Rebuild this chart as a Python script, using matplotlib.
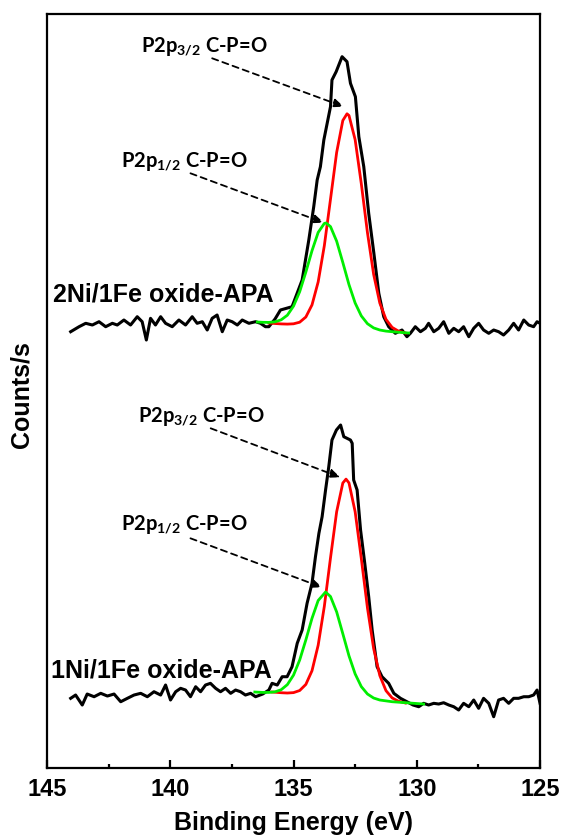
import matplotlib
matplotlib.use("Agg")
import matplotlib.pyplot as plt

plt.rcParams['font.family'] = ['Liberation Sans', 'DejaVu Sans']
plt.rcParams['font.weight'] = 'bold'
plt.rcParams['mathtext.fontset'] = 'custom'
plt.rcParams['mathtext.bf'] = 'Lato:bold'
plt.rcParams['mathtext.rm'] = 'Lato:bold'

# ---- 2Ni/1Fe oxide-APA (upper spectrum, offset) ----
be_2ni = [144.04, 143.70, 143.43, 143.16, 142.89, 142.62, 142.35, 142.15, 141.88, 141.61,
          141.34, 141.14, 140.97, 140.80, 140.60, 140.39, 140.19, 139.92, 139.65, 139.38,
          139.11, 138.91, 138.70, 138.50, 138.30, 138.10, 137.89, 137.69, 137.49, 137.28,
          137.08, 136.81, 136.54, 136.34, 136.14, 136.00, 135.75, 135.53, 135.06, 134.65,
          134.38, 134.18, 134.04, 133.91, 133.77, 133.50, 133.44, 133.27, 133.03, 132.83,
          132.69, 132.49, 132.35, 132.15, 131.95, 131.74, 131.54, 131.34, 131.14, 130.87,
          130.60, 130.40, 130.26, 130.06, 129.85, 129.65, 129.52, 129.31, 129.11, 128.91,
          128.70, 128.50, 128.30, 128.10, 127.89, 127.69, 127.49, 127.29, 127.08, 126.88,
          126.68, 126.48, 126.27, 126.07, 125.87, 125.66, 125.46, 125.26, 125.12, 125.00]
cps_2ni = [442.3, 447.3, 450.7, 449.0, 452.3, 447.3, 450.7, 449.0, 454.0, 449.0,
           457.3, 452.3, 434.0, 455.7, 449.0, 457.3, 450.7, 447.3, 454.0, 449.0,
           457.3, 450.7, 452.3, 444.0, 455.7, 459.0, 442.3, 454.0, 452.3, 449.0,
           454.0, 450.7, 452.3, 450.7, 447.3, 447.3, 455.0, 464.0, 467.3, 494.0,
           534.0, 567.3, 594.0, 607.3, 634.0, 667.3, 694.0, 702.3, 717.3, 712.3,
           690.7, 677.3, 637.3, 607.3, 560.7, 520.7, 480.7, 457.3, 447.3, 440.7,
           444.0, 437.3, 440.7, 447.3, 442.3, 445.7, 450.7, 442.3, 445.7, 452.3,
           440.7, 445.7, 442.3, 447.3, 437.3, 445.7, 450.7, 444.0, 440.7, 444.0,
           442.3, 439.0, 444.0, 450.7, 444.0, 454.0, 449.0, 447.3, 452.3, 450.7]

fit32_be_2ni = [136.00, 135.75, 135.50, 135.25, 135.00, 134.75, 134.50, 134.25, 134.00, 133.75,
                133.50, 133.25, 133.00, 132.83, 132.75, 132.50, 132.25, 132.00, 131.75, 131.50,
                131.25, 131.00, 130.75, 130.46]
fit32_2ni = [451.0, 450.5, 450.1, 449.9, 450.2, 451.8, 457.0, 469.1, 492.1, 528.3,
             574.8, 621.6, 653.5, 660.2, 658.5, 634.3, 590.3, 541.2, 499.7, 471.0,
             454.7, 446.6, 443.0, 441.0]
fit12_be_2ni = [136.47, 136.25, 136.00, 135.75, 135.50, 135.25, 135.00, 134.75, 134.50, 134.25,
                134.00, 133.75, 133.68, 133.50, 133.25, 133.00, 132.75, 132.50, 132.25, 132.00,
                131.75, 131.50, 131.25, 131.00, 130.75, 130.50, 130.33]
fit12_2ni = [452.0, 451.7, 451.6, 452.2, 454.2, 458.8, 467.9, 482.3, 501.9, 523.3,
             541.6, 550.6, 551.0, 547.4, 532.8, 511.5, 489.4, 471.0, 458.1, 450.3,
             446.1, 444.0, 442.9, 442.3, 441.8, 441.3, 441.0]

# ---- 1Ni/1Fe oxide-APA (lower spectrum) ----
be_1ni = [144.04, 143.84, 143.57, 143.37, 143.09, 142.82, 142.55, 142.28, 142.01, 141.74,
          141.47, 141.20, 140.93, 140.66, 140.39, 140.19, 139.99, 139.78, 139.58, 139.38,
          139.18, 138.97, 138.77, 138.57, 138.37, 138.16, 137.96, 137.76, 137.55, 137.35,
          137.15, 136.95, 136.74, 136.54, 136.25, 136.00, 135.87, 135.66, 135.46, 135.26,
          135.06, 134.85, 134.65, 134.45, 134.25, 134.11, 133.97, 133.84, 133.70, 133.57,
          133.44, 133.26, 133.09, 132.96, 132.69, 132.62, 132.56, 132.42, 132.28, 132.11,
          131.95, 131.81, 131.61, 131.41, 131.14, 130.93, 130.66, 130.40, 130.15, 129.92,
          129.72, 129.52, 129.31, 129.11, 128.91, 128.70, 128.50, 128.30, 128.10, 127.89,
          127.69, 127.49, 127.29, 127.08, 126.88, 126.68, 126.48, 126.27, 126.07, 125.87,
          125.66, 125.46, 125.26, 125.12, 125.00]
cps_1ni = [75.7, 79.0, 69.0, 80.0, 77.3, 80.7, 78.0, 80.0, 72.3, 75.7,
           79.0, 80.7, 77.3, 82.3, 79.0, 89.0, 74.0, 82.3, 85.7, 84.0,
           77.3, 87.3, 82.3, 89.0, 90.7, 85.7, 82.3, 85.7, 80.7, 84.0,
           82.3, 79.0, 80.7, 77.3, 80.0, 84.0, 90.7, 89.0, 97.3, 97.3,
           107.3, 130.7, 144.0, 170.7, 190.7, 217.3, 240.7, 257.3, 284.0, 307.3,
           334.0, 344.0, 349.0, 337.3, 334.0, 330.7, 294.0, 284.0, 244.0, 210.7,
           177.3, 144.0, 107.3, 97.3, 90.7, 80.7, 75.7, 72.3, 69.0, 67.3,
           70.7, 69.0, 70.7, 70.0, 71.3, 69.0, 67.3, 64.0, 70.7, 67.3,
           74.0, 65.7, 75.7, 70.7, 57.3, 74.0, 75.7, 70.7, 75.7, 75.7,
           77.3, 77.3, 79.0, 84.0, 70.7]

fit32_be_1ni = [135.87, 135.75, 135.50, 135.25, 135.00, 134.75, 134.50, 134.25, 134.00, 133.75,
                133.50, 133.25, 133.00, 132.87, 132.75, 132.50, 132.25, 132.00, 131.75, 131.50,
                131.25, 131.00, 130.75, 130.46]
fit32_1ni = [82.0, 81.8, 81.3, 81.0, 81.4, 83.5, 89.6, 103.3, 128.8, 167.7,
             216.1, 262.3, 291.0, 294.9, 291.1, 262.3, 215.5, 166.0, 125.5, 98.5,
             83.4, 76.1, 72.9, 71.0]
fit12_be_1ni = [136.57, 136.25, 136.00, 135.75, 135.50, 135.25, 135.00, 134.75, 134.50, 134.25,
                134.00, 133.70, 133.50, 133.25, 133.00, 132.75, 132.50, 132.25, 132.00, 131.75,
                131.50, 131.00, 130.50, 130.00, 129.72]
fit12_1ni = [82.0, 81.6, 81.6, 82.2, 84.3, 89.4, 98.9, 114.0, 134.1, 155.7,
             173.5, 182.0, 177.5, 162.1, 140.3, 118.2, 100.1, 87.4, 80.0, 76.0,
             74.0, 72.3, 71.4, 70.5, 70.0]

sample_names = ['2Ni/1Fe oxide-APA', '1Ni/1Fe oxide-APA']
peak_names = [r'P2p$\mathbf{_{3/2}}$ C-P=O', r'P2p$\mathbf{_{1/2}}$ C-P=O']

fig = plt.figure(figsize=(5.65, 8.38), dpi=100)
ax = fig.add_axes([0.0832, 0.0835, 0.9558 - 0.0832, 0.9833 - 0.0835])

ax.plot(be_2ni, cps_2ni, color='black', lw=2.2, zorder=2)
ax.plot(fit32_be_2ni, fit32_2ni, color='#ff0000', lw=2.0, zorder=3)
ax.plot(fit12_be_2ni, fit12_2ni, color='#00ee00', lw=2.0, zorder=4)

ax.plot(be_1ni, cps_1ni, color='black', lw=2.2, zorder=2)
ax.plot(fit32_be_1ni, fit32_1ni, color='#ff0000', lw=2.0, zorder=3)
ax.plot(fit12_be_1ni, fit12_1ni, color='#00ee00', lw=2.0, zorder=4)

ax.set_xlim(145, 125)
ax.set_ylim(6, 760)

# peak labels with dashed arrows
ann_font = dict(family=['Lato', 'DejaVu Sans'], fontsize=14.5, fontweight='bold')
arrow = dict(arrowstyle='-|>,head_length=0.6,head_width=0.25', color='black',
             lw=1.3, linestyle=(0, (3.5, 2.5)), shrinkA=0, shrinkB=0)

ax.text(141.20, 722.3, peak_names[0], **ann_font)
ax.annotate('', xy=(132.96, 667.3), xytext=(138.30, 715.7), arrowprops=arrow)
ax.text(142.01, 607.3, peak_names[1], **ann_font)
ax.annotate('', xy=(133.77, 551.3), xytext=(139.18, 600.7), arrowprops=arrow)

ax.text(141.30, 352.3, peak_names[0], **ann_font)
ax.annotate('', xy=(133.10, 296.7), xytext=(138.36, 345.7), arrowprops=arrow)
ax.text(142.01, 244.0, peak_names[1], **ann_font)
ax.annotate('', xy=(133.84, 186.7), xytext=(139.18, 235.7), arrowprops=arrow)

ax.text(144.76, 472.3, sample_names[0], fontsize=18, fontweight='bold')
ax.text(144.85, 96.7, sample_names[1], fontsize=18, fontweight='bold')

ax.set_xticks([145, 140, 135, 130, 125])
ax.set_xticks([142.5, 137.5, 132.5, 127.5], minor=True)
ax.set_yticks([])
ax.tick_params(axis='x', which='major', direction='in', length=6, width=1.6,
               labelsize=17, pad=7.5)
ax.tick_params(axis='x', which='minor', direction='in', length=3, width=1.6)
for lab in ax.get_xticklabels():
    lab.set_fontweight('bold')
for sp in ax.spines.values():
    sp.set_linewidth(1.6)

fig.text(293.5 / 565, 1 - 830 / 838, 'Binding Energy (eV)', fontsize=18,
         fontweight='bold', ha='center', va='baseline')
fig.text(22 / 565, 1 - 395 / 838, 'Counts/s', fontsize=18, fontweight='bold',
         rotation=90, ha='center', va='center')

fig.savefig('out.png', dpi=100)
